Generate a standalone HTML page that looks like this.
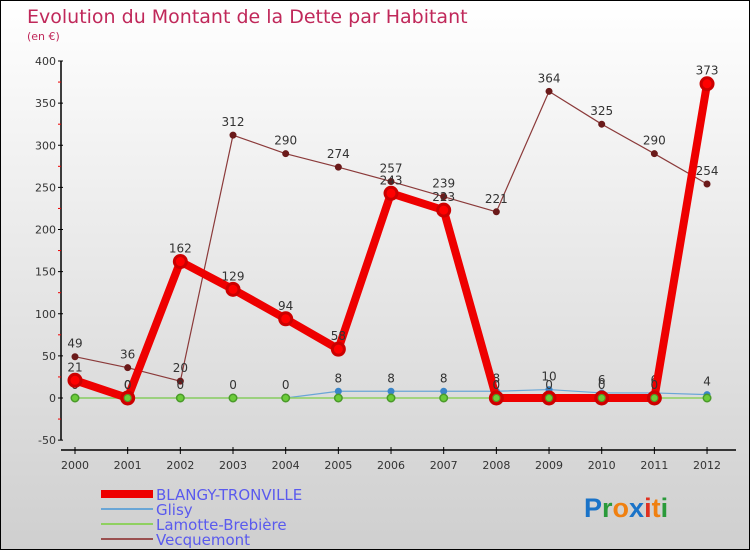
<!DOCTYPE html>
<html><head><meta charset="utf-8"><style>
body{margin:0}
#c{width:748px;height:548px;border:1px solid #000;background:linear-gradient(#fff,#cfcfcf);position:relative;font-family:"DejaVu Sans","Liberation Sans",sans-serif}
</style></head><body>
<div id="c">
<svg id="s" width="748" height="548" style="position:absolute;left:0;top:0"></svg>
</div>
<script>
const years=["2000","2001","2002","2003","2004","2005","2006","2007","2008","2009","2010","2011","2012"];
const blangy=[21,0,162,129,94,58,243,223,0,0,0,0,373];
const glisy=[0,0,0,0,0,8,8,8,8,10,6,6,4];
const lamotte=[0,0,0,0,0,0,0,0,0,0,0,0,0];
const vecq=[49,36,20,312,290,274,257,239,221,364,325,290,254];
const yTicks=[400,350,300,250,200,150,100,50,0,-50];
const NS="http://www.w3.org/2000/svg";
const s=document.getElementById('s');
function X(i){return 74+i*52.67}
function Y(v){return 397-v*0.8425}
function el(t,a,p){const e=document.createElementNS(NS,t);for(const k in a)e.setAttribute(k,a[k]);(p||s).appendChild(e);return e}
function tx(x,y,str,a){const e=el('text',Object.assign({x:x,y:y},a));e.textContent=str;return e}
let t=tx(26,22,"Evolution du Montant de la Dette par Habitant",{fill:"#c0285a","font-size":19});

t=tx(26,39,"(en €)",{fill:"#c0285a","font-size":11});

// axes
let ax=el('line',{x1:60,y1:Y(400),x2:60,y2:Y(-50),stroke:"#000","stroke-width":1.5});

yTicks.forEach((v,i)=>{el('line',{x1:57,x2:62,y1:Y(v),y2:Y(v),stroke:"#000"});
 let l=tx(55,Y(v)+4,String(v),{"font-size":11,fill:"#333","text-anchor":"end"});
 
 if(i<yTicks.length-1)el('line',{x1:57,x2:60,y1:Y(v-25),y2:Y(v-25),stroke:"#e00"});});
ax=el('line',{x1:60,y1:449,x2:735,y2:449,stroke:"#000","stroke-width":1.5});

years.forEach((y,i)=>{el('line',{x1:X(i),x2:X(i),y1:446,y2:453,stroke:"#000"});
 let l=tx(X(i),468,y,{"font-size":11,fill:"#333","text-anchor":"middle"});
 });
function series(vals,name,color,w,r,mfill,mstroke,lab){
 const g=el('g',{});
 el('polyline',{points:vals.map((v,i)=>X(i)+","+Y(v)).join(" "),fill:"none",stroke:color,"stroke-width":w,"stroke-linejoin":"round"},g);
 vals.forEach((v,i)=>{const c=el('circle',{cx:X(i),cy:Y(v),r:r,fill:mfill,stroke:mstroke,"stroke-width":r>5?3:1},g);
  
  if(lab){const l=tx(X(i),Y(v)-9,String(v),{"font-size":12,fill:"#333","text-anchor":"middle"},g);}});
}
series(vecq,"vecquemont-series","#8b3a3a",1.2,3,"#6b1a1a","#6b1a1a",true);
series(glisy,"glisy-series","#6aa6d6",1.2,3,"#3a85c8","#3a85c8",true);
series(lamotte,"lamotte-series","#8fd060",1.5,4,"#6ccc3a","#4a9a2a",false);
series(blangy,"blangy-series","#ee0000",8,6,"#f00","#c00",true);
// redraw lamotte markers on top
lamotte.forEach((v,i)=>{const c=el('circle',{cx:X(i),cy:Y(v),r:3.5,fill:"#6ccc3a",stroke:"#4a9a2a"});});
// legend
const leg=[["BLANGY-TRONVILLE","#ee0000",8],["Glisy","#6aa6d6",2],["Lamotte-Brebière","#8fd060",2],["Vecquemont","#9a5050",2]];
leg.forEach((d,i)=>{const g=el('g',{});
 const y=493+i*15;el('line',{x1:100,x2:152,y1:y,y2:y,stroke:d[1],"stroke-width":d[2]},g);
 tx(155,y+6,d[0],{"font-size":15,fill:"#5a5aee"},g);});
// logo
const lg=el('text',{x:583,y:516,"font-size":27,"font-family":"Liberation Sans, sans-serif","font-weight":"bold"});

[["P","#1a73c8"],["r","#2a9a3a"],["o","#f08010"],["x","#1a73c8"],["i","#e03020"],["t","#f08010"],["i","#2a9a3a"]].forEach(p=>{const ts=el('tspan',{fill:p[1]},lg);ts.textContent=p[0];});
</script>
</body></html>
